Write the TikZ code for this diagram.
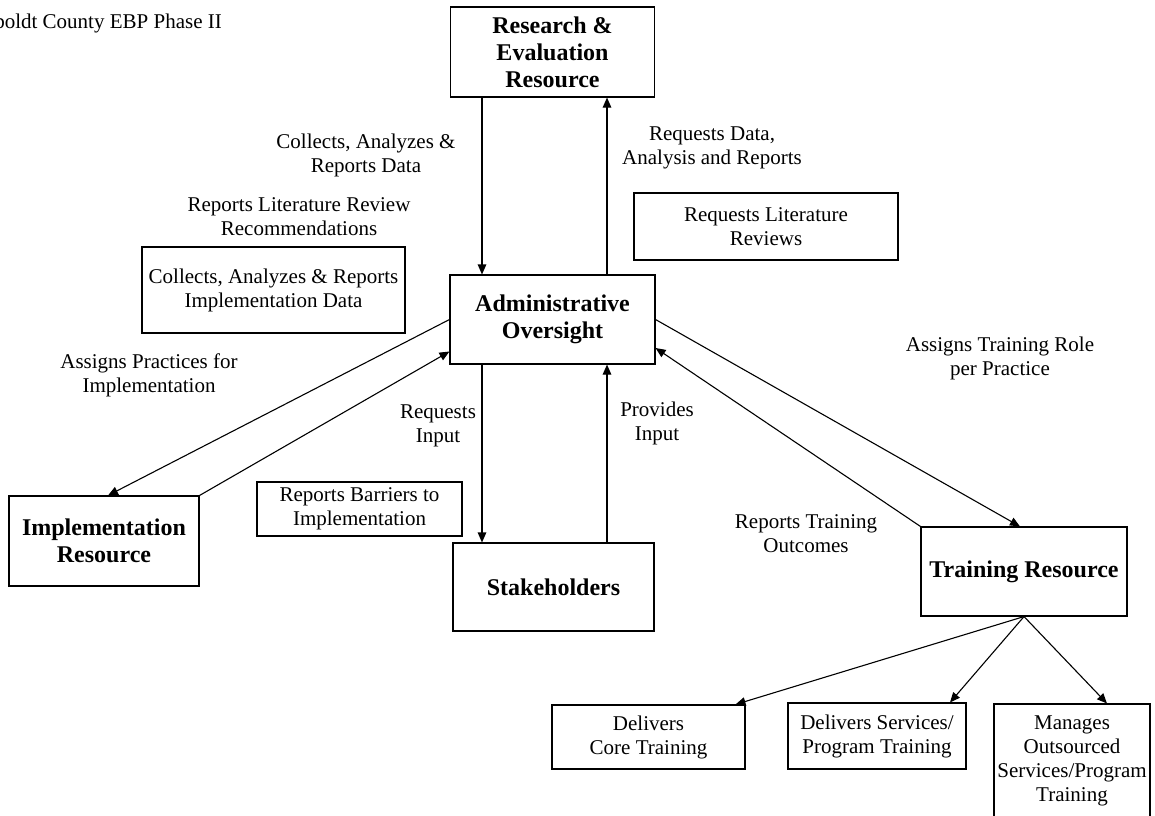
\documentclass[tikz,border=0pt]{standalone}
\usepackage{fontspec}
\setmainfont{Liberation Serif}
\usetikzlibrary{arrows.meta}

\newcommand\lbltext{\fontsize{21}{24}\selectfont}
\newcommand\headtext{\fontsize{24}{27}\selectfont\bfseries}

\begin{document}
\begin{tikzpicture}[x=1pt, y=-1pt,
  box/.style={draw, line width=1.1pt, inner sep=0pt, align=center, font=\lbltext},
  headbox/.style={box, font=\headtext},
  lbl/.style={inner sep=0pt, align=center, font=\lbltext},
  arr/.style={line width=1.1pt, -{Triangle[length=10pt,width=8.5pt]}}]

\useasboundingbox (0,0) rectangle (1155,815);
\clip (0,0) rectangle (1155,815);

% heading, partly cut at the left edge
\node[lbl, anchor=base east] (title) at (222,28) {Humboldt County EBP Phase II};

% main boxes
\node[headbox, minimum width=204pt, minimum height=90pt] (res) at (552.5,52) {Research \&\\Evaluation\\Resource};
\node[headbox, minimum width=205pt, minimum height=89pt] (adm) at (552.5,319.5) {Administrative\\Oversight};
\node[headbox, minimum width=190pt, minimum height=90pt] (imp) at (104,541) {Implementation\\Resource};
\node[headbox, minimum width=201pt, minimum height=88pt] (stk) at (553.5,587) {Stakeholders};
\node[headbox, minimum width=206pt, minimum height=89pt] (trn) at (1024,571.5) {Training Resource};

% boxed notes
\node[box, minimum width=264pt, minimum height=67pt] (rlr) at (766,226.5) {Requests Literature\\Reviews};
\node[box, minimum width=263pt, minimum height=86pt] (car) at (273.5,290) {Collects, Analyzes \& Reports\\Implementation Data};
\node[box, minimum width=205pt, minimum height=54pt] (rbi) at (359.5,509) {Reports Barriers to\\Implementation};

% training outputs
\node[box, minimum width=193pt, minimum height=64pt] (dct) at (648.5,737) {Delivers\\Core Training};
\node[box, minimum width=178pt, minimum height=66pt] (dsp) at (877,736) {Delivers Services/\\Program Training};
\node[box, minimum width=156pt, minimum height=114pt] (mos) at (1072,761) {Manages\\Outsourced\\Services/Program\\Training};

% free labels
\node[lbl] (l1) at (366,155) {Collects, Analyzes \&\\Reports Data};
\node[lbl] (l2) at (299,217) {Reports Literature Review\\Recommendations};
\node[lbl] (l3) at (712,148) {Requests Data,\\Analysis and Reports};
\node[lbl] (l4) at (149,375) {Assigns Practices for\\Implementation};
\node[lbl] (l5) at (438,426) {Requests\\Input};
\node[lbl] (l6) at (657,423) {Provides\\Input};
\node[lbl] (l7) at (1000,358) {Assigns Training Role\\per Practice};
\node[lbl] (l8) at (806,534) {Reports Training\\Outcomes};

% connectors
\draw[arr] ([xshift=-70.5pt]res.south) -- ([xshift=-70.5pt]adm.north);
\draw[arr] ([xshift=54.5pt]adm.north) -- ([xshift=54.5pt]res.south);
\draw[arr] ([xshift=-70.5pt]adm.south) -- ([xshift=-71.5pt]stk.north);
\draw[arr] ([xshift=53.5pt]stk.north) -- ([xshift=54.5pt]adm.south);
\draw[arr] (adm.west) -- ([xshift=4pt]imp.north);
\draw[arr] (imp.north east) -- ([yshift=-32pt]adm.west);
\draw[arr] (adm.east) -- ([xshift=-4pt]trn.north);
\draw[arr] (trn.north west) -- ([yshift=-28.5pt]adm.east);
\draw[arr] (trn.south) -- ([xshift=87pt]dct.north);
\draw[arr] (trn.south) -- ([xshift=73pt]dsp.north);
\draw[arr] (trn.south) -- ([xshift=35pt]mos.north);

\end{tikzpicture}
\end{document}
